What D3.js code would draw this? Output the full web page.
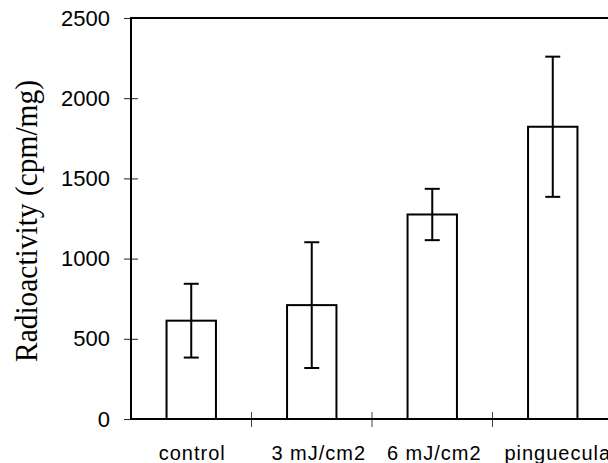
<!DOCTYPE html>
<html>
<head>
<meta charset="utf-8">
<script src="https://cdn.jsdelivr.net/npm/d3@7"></script>
<style>
  body { margin: 0; background: #fff; overflow: hidden; }
  svg { display: block; }
</style>
</head>
<body>
<svg id="chart"></svg>
<script>
var categories = ["control", "3 mJ/cm2", "6 mJ/cm2", "pinguecula"]
var means = [613, 710, 1275, 1822]
var errors = [230, 392, 160, 437]
var yTicks = [0, 500, 1000, 1500, 2000, 2500]

var screen = { width: 608, height: 463 }
var margin = { left: 131, top: 18, bottom: 44 }
var plotRight = 613

var svg = d3.select("#chart")
  .attr("width", screen.width)
  .attr("height", screen.height)

var yScale = d3.scaleLinear()
  .domain([0, 2500])
  .range([screen.height - margin.bottom, margin.top])

var xScale = d3.scaleBand()
  .domain(categories)
  .range([margin.left, plotRight])
  .padding(0)

var barWidth = xScale.bandwidth() * 0.41
var capWidth = 15

// bars
svg.selectAll("rect.bar")
  .data(categories)
  .enter()
  .append("rect")
  .attr("class", "bar")
  .attr("x", function(d){ return xScale(d) + (xScale.bandwidth() - barWidth) / 2 })
  .attr("y", function(d, i){ return yScale(means[i]) })
  .attr("width", barWidth)
  .attr("height", function(d, i){ return yScale(0) - yScale(means[i]) })
  .attr("fill", "white")
  .attr("stroke", "black")
  .attr("stroke-width", 2)

// error bars
var cx = function(d){ return xScale(d) + xScale.bandwidth() / 2 }
var err = svg.append("g").attr("stroke", "black").attr("stroke-width", 2)
err.selectAll("line.stem")
  .data(categories)
  .enter()
  .append("line")
  .attr("x1", cx).attr("x2", cx)
  .attr("y1", function(d, i){ return yScale(means[i] + errors[i]) })
  .attr("y2", function(d, i){ return yScale(means[i] - errors[i]) })
err.selectAll("line.top")
  .data(categories)
  .enter()
  .append("line")
  .attr("x1", function(d){ return cx(d) - capWidth / 2 })
  .attr("x2", function(d){ return cx(d) + capWidth / 2 })
  .attr("y1", function(d, i){ return yScale(means[i] + errors[i]) })
  .attr("y2", function(d, i){ return yScale(means[i] + errors[i]) })
err.selectAll("line.bot")
  .data(categories)
  .enter()
  .append("line")
  .attr("x1", function(d){ return cx(d) - capWidth / 2 })
  .attr("x2", function(d){ return cx(d) + capWidth / 2 })
  .attr("y1", function(d, i){ return yScale(means[i] - errors[i]) })
  .attr("y2", function(d, i){ return yScale(means[i] - errors[i]) })

// y axis
var yAxis = d3.axisLeft(yScale).tickValues(yTicks).tickFormat(d3.format("d")).tickSize(7)
var gy = svg.append("g")
  .attr("transform", "translate(" + margin.left + ",0)")
  .call(yAxis)
gy.select(".domain").remove()
gy.selectAll(".tick line").attr("x1", 7).attr("x2", -7).attr("stroke", "#222")
gy.selectAll(".tick text")
  .attr("font-family", "Liberation Sans, Arial, sans-serif")
  .attr("font-size", 22)
  .attr("fill", "black")
  .attr("x", -21)

svg.append("line")
  .attr("x1", margin.left).attr("x2", margin.left)
  .attr("y1", yScale(2500) - 1).attr("y2", yScale(0) + 1)
  .attr("stroke", "black").attr("stroke-width", 2)

// top border
svg.append("line")
  .attr("x1", margin.left).attr("x2", screen.width)
  .attr("y1", yScale(2500)).attr("y2", yScale(2500))
  .attr("stroke", "black").attr("stroke-width", 2)

// x axis separators
svg.selectAll("line.sep")
  .data(categories.slice(1))
  .enter()
  .append("line")
  .attr("class", "sep")
  .attr("x1", function(d){ return xScale(d) })
  .attr("x2", function(d){ return xScale(d) })
  .attr("y1", yScale(0) - 7).attr("y2", yScale(0) + 8)
  .attr("stroke", "#444").attr("stroke-width", 1)
svg.append("line")
  .attr("x1", margin.left).attr("x2", screen.width)
  .attr("y1", yScale(0)).attr("y2", yScale(0))
  .attr("stroke", "black").attr("stroke-width", 2)

var labelShift = [0, 6, 1, 4]
svg.selectAll("text.xlab")
  .data(categories)
  .enter()
  .append("text")
  .attr("class", "xlab")
  .attr("x", function(d, i){ return cx(d) + 1 + labelShift[i] })
  .attr("y", 460)
  .attr("text-anchor", "middle")
  .attr("font-family", "Liberation Sans, Arial, sans-serif")
  .attr("font-size", 20)
  .attr("letter-spacing", 1)
  .text(function(d){ return d })

// y title
svg.append("text")
  .attr("transform", "translate(37,221) rotate(-90)")
  .attr("text-anchor", "middle")
  .attr("font-family", "Liberation Serif, Times New Roman, serif")
  .attr("font-size", 32)
  .attr("textLength", 282)
  .attr("lengthAdjust", "spacingAndGlyphs")
  .text("Radioactivity (cpm/mg)")
</script>
</body>
</html>
